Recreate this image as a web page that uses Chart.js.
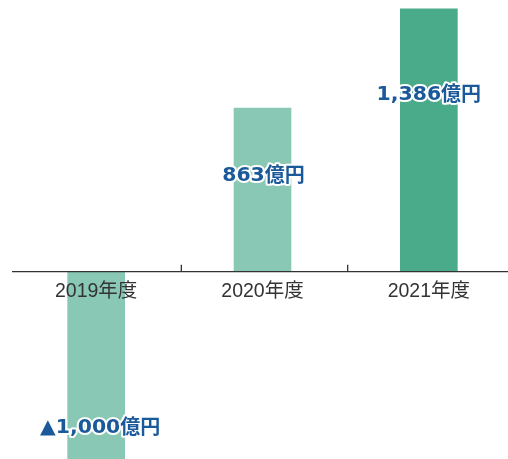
<!DOCTYPE html>
<html>
<head>
<meta charset="utf-8">
<script src="https://cdn.jsdelivr.net/npm/chart.js@4/dist/chart.umd.min.js"></script>
<style>
  html, body { margin: 0; padding: 0; background: #fff; overflow: hidden; }
  #wrap { width: 508px; height: 459px; overflow: hidden; }
</style>
</head>
<body>
<div id="wrap"><canvas id="chart" width="512" height="459"></canvas></div>
<script>
// 経常利益の推移（億円）
const years = ['2019年度', '2020年度', '2021年度'];
const profit = [-1000, 863, 1386];
const barColors = ['#88c8b4', '#88c8b4', '#4aab8b'];
const unit = '億円';

// ▲ は赤字を表す
function fmtNum(v) {
    const s = Math.abs(v).toLocaleString('en-US');
    return v < 0 ? '▲' + s : s;
}

// 軸の区切り（上向きの短い目盛）
const dividers = {
    id: 'dividers',
    afterDatasetsDraw(chart) {
        const x = chart.scales.x;
        const y0 = chart.scales.y.getPixelForValue(0);
        const ctx = chart.ctx;
        ctx.save();
        ctx.strokeStyle = '#333';
        ctx.lineWidth = 1.3;
        for (let i = 1; i < years.length; i++) {
            const px = (x.getPixelForValue(i - 1) + x.getPixelForValue(i)) / 2 + 2;
            ctx.beginPath();
            ctx.moveTo(px, y0 - 7);
            ctx.lineTo(px, y0);
            ctx.stroke();
        }
        ctx.restore();
    }
};

// 棒の中に金額を表示（数字は横長の書体）
const valueLabels = {
    id: 'valueLabels',
    afterDatasetsDraw(chart, args, opts) {
        const ctx = chart.ctx;
        const meta = chart.getDatasetMeta(0);
        const numFont = 'bold 20px "DejaVu Sans", sans-serif';
        const unitFont = 'bold 20px "Noto Sans CJK JP", sans-serif';
        const sx = opts.stretch;
        ctx.save();
        ctx.textAlign = 'left';
        ctx.textBaseline = 'middle';
        ctx.lineJoin = 'round';
        ctx.strokeStyle = '#fff';
        ctx.fillStyle = '#1b5a9a';
        ctx.lineWidth = 4;
        meta.data.forEach((bar, i) => {
            const v = profit[i];
            const num = fmtNum(v);
            ctx.font = numFont;
            const nw = ctx.measureText(num).width * sx;
            ctx.font = unitFont;
            const uw = ctx.measureText(unit).width;
            const cx = bar.x + opts.dx[i];
            const ty = bar.y + (v < 0 ? -opts.inset[i] : opts.inset[i]);
            const left = cx - (nw + uw) / 2;

            ctx.save();
            ctx.font = numFont;
            ctx.translate(left, ty);
            ctx.scale(sx, 1);
            ctx.strokeText(num, 0, 0);
            ctx.fillText(num, 0, 0);
            ctx.restore();

            ctx.font = unitFont;
            ctx.strokeText(unit, left + nw, ty - 1.5);
            ctx.fillText(unit, left + nw, ty - 1.5);
        });
        ctx.restore();
    }
};

new Chart(document.getElementById('chart'), {
    type: 'bar',
    data: {
        labels: years,
        datasets: [{
            data: profit,
            backgroundColor: barColors,
            borderWidth: 0,
            barThickness: 57
        }]
    },
    options: {
        responsive: false,
        animation: false,
        events: [],
        layout: { padding: { left: 13, right: 0, top: 0, bottom: 0 } },
        plugins: {
            legend: { display: false },
            tooltip: { enabled: false },
            valueLabels: { inset: [34, 68, 86], dx: [4, 1, 0], stretch: 1.02 }
        },
        scales: {
            x: {
                position: { y: 0 },
                grid: { display: false, drawTicks: false },
                border: { display: true, color: '#333', width: 1.3, z: 1 },
                ticks: {
                    z: 1,
                    color: '#333',
                    padding: 8,
                    font: { family: '"Liberation Sans", "Noto Sans CJK JP", sans-serif', size: 19.5 }
                }
            },
            y: {
                display: false,
                min: -987,
                max: 1432
            }
        }
    },
    plugins: [dividers, valueLabels]
});
</script>
</body>
</html>
